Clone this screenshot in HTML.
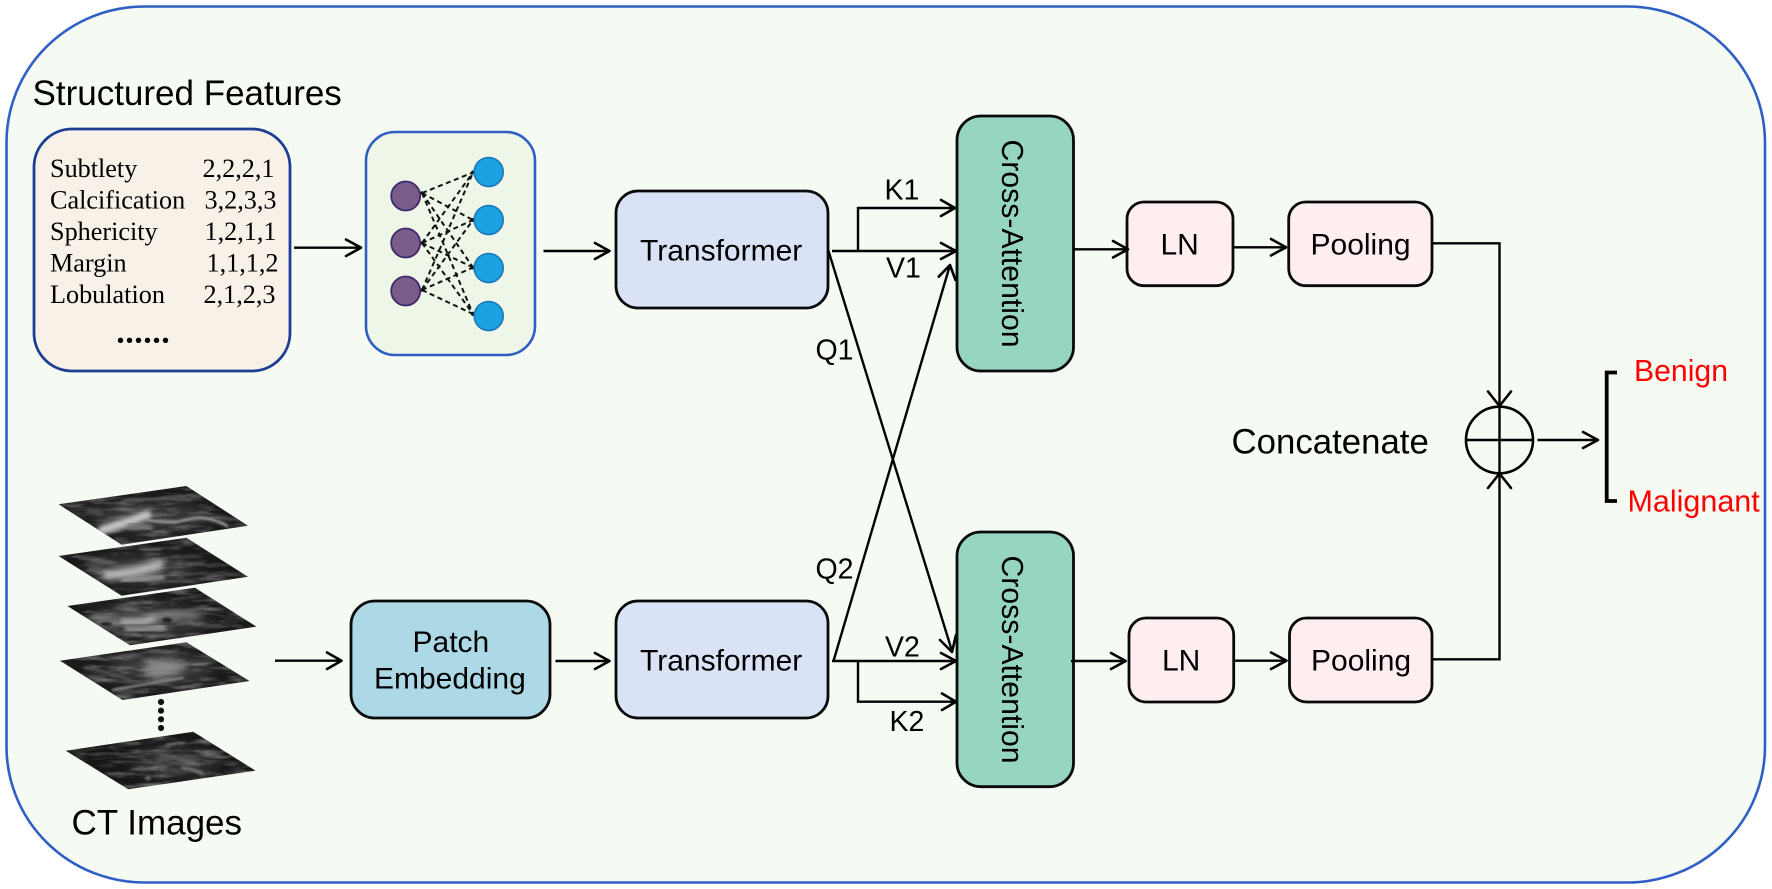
<!DOCTYPE html>
<html>
<head>
<meta charset="utf-8">
<style>
html,body{margin:0;padding:0;background:#fff;width:1772px;height:889px;overflow:hidden}
svg{display:block}
text{font-family:"Liberation Sans",Arial,sans-serif;fill:#000}
.serif{font-family:"Liberation Serif","Times New Roman",serif;font-size:26.2px}
.box{stroke:#0a0a0a;stroke-width:2.8}
.l{fill:none;stroke:#000;stroke-width:2.4}
.h{fill:none;stroke:#000;stroke-width:2.6;stroke-linecap:round;stroke-linejoin:round}
.d{fill:none;stroke:#111;stroke-width:2;stroke-dasharray:5 3.6}
.s{fill:none;stroke-linecap:round}
</style>
</head>
<body>
<svg width="1772" height="889" viewBox="0 0 1772 889" xmlns="http://www.w3.org/2000/svg">
<defs>
<filter id="noise" x="0" y="0" width="100%" height="100%">
<feTurbulence type="fractalNoise" baseFrequency="0.035 0.18" numOctaves="4" seed="4"/>
<feColorMatrix type="matrix" values="0 0 0 0 1  0 0 0 0 1  0 0 0 0 1  1.6 0 0 0 -0.68"/>
</filter>
<filter id="b6" x="-50%" y="-100%" width="200%" height="300%"><feGaussianBlur stdDeviation="7"/></filter>
<filter id="b3" x="-30%" y="-60%" width="160%" height="220%"><feGaussianBlur stdDeviation="2.4"/></filter>
<filter id="b4" x="-50%" y="-80%" width="200%" height="260%"><feGaussianBlur stdDeviation="4.5"/></filter>
<filter id="b1" x="-30%" y="-60%" width="160%" height="220%"><feGaussianBlur stdDeviation="1"/></filter>
<clipPath id="c1"><polygon points="58.6,504.3 186.4,486 248,525.7 121.7,544.7"/></clipPath>
<clipPath id="c2"><polygon points="58.6,556 186.4,537.7 248,576.7 121.7,595.7"/></clipPath>
<clipPath id="c3"><polygon points="67.4,606 195,587.7 256.4,626.7 130,645.3"/></clipPath>
<clipPath id="c4"><polygon points="60,660.7 186.4,642.3 249.5,681 122.5,700"/></clipPath>
<clipPath id="c5"><polygon points="65.8,750.7 193.3,731.7 255.6,770.7 128.2,789.3"/></clipPath>
</defs>

<!-- outer panel -->
<rect x="6.5" y="6.5" width="1758.5" height="876" rx="138" ry="136" fill="#f5fbf2" stroke="#2f5fc4" stroke-width="2.6"/>

<text x="32.5" y="105" font-size="35">Structured Features</text>

<!-- structured box -->
<rect x="34" y="129" width="256" height="242" rx="38" fill="#f7f1e7" stroke="#1c3f94" stroke-width="2.8"/>
<text class="serif" x="50" y="177">Subtlety</text><text class="serif" x="202.5" y="177">2,2,2,1</text>
<text class="serif" x="50" y="208.5">Calcification</text><text class="serif" x="204.5" y="208.5">3,2,3,3</text>
<text class="serif" x="50" y="240">Sphericity</text><text class="serif" x="204.5" y="240">1,2,1,1</text>
<text class="serif" x="50" y="271.5">Margin</text><text class="serif" x="206.5" y="271.5">1,1,1,2</text>
<text class="serif" x="50" y="303">Lobulation</text><text class="serif" x="203.5" y="303">2,1,2,3</text>
<g fill="#000"><circle cx="120.5" cy="340.3" r="2.7"/><circle cx="129.5" cy="340.3" r="2.7"/><circle cx="138.5" cy="340.3" r="2.7"/><circle cx="147.5" cy="340.3" r="2.7"/><circle cx="156.5" cy="340.3" r="2.7"/><circle cx="165.5" cy="340.3" r="2.7"/></g>

<!-- network box -->
<rect x="366" y="132" width="169" height="223" rx="29" fill="#eef6e8" stroke="#2f5fc4" stroke-width="2.6"/>
<g>
<line class="d" x1="422" y1="193" x2="473" y2="172.5"/><line class="d" x1="422" y1="193" x2="473" y2="220"/><line class="d" x1="422" y1="193" x2="473" y2="267.5"/><line class="d" x1="422" y1="193" x2="473" y2="314"/>
<line class="d" x1="422" y1="243" x2="473" y2="172.5"/><line class="d" x1="422" y1="243" x2="473" y2="220"/><line class="d" x1="422" y1="243" x2="473" y2="267.5"/><line class="d" x1="422" y1="243" x2="473" y2="314"/>
<line class="d" x1="422" y1="290" x2="473" y2="172.5"/><line class="d" x1="422" y1="290" x2="473" y2="220"/><line class="d" x1="422" y1="290" x2="473" y2="267.5"/><line class="d" x1="422" y1="290" x2="473" y2="314"/>
</g>
<g fill="#111"><circle cx="473" cy="172.5" r="2"/><circle cx="473" cy="220" r="2"/><circle cx="473" cy="267.5" r="2"/><circle cx="473" cy="314" r="2"/><circle cx="422" cy="193" r="1.8"/><circle cx="422" cy="243" r="1.8"/><circle cx="422" cy="290" r="1.8"/></g>
<g fill="#7a5c8a" stroke="#3f2a6b" stroke-width="1.8"><circle cx="405.7" cy="196" r="14.5"/><circle cx="405.7" cy="243" r="14.5"/><circle cx="405.7" cy="291" r="14.5"/></g>
<g fill="#1ba0e2" stroke="#1c77b8" stroke-width="1.6"><circle cx="488.7" cy="172" r="14.5"/><circle cx="488.7" cy="220" r="14.5"/><circle cx="488.7" cy="268" r="14.5"/><circle cx="488.7" cy="316" r="14.5"/></g>

<!-- arrows structured -->
<line class="l" x1="294" y1="247.7" x2="360" y2="247.7"/><polyline class="h" points="346,239.5 361,247.7 346,256"/>
<line class="l" x1="543.5" y1="251" x2="608" y2="251"/><polyline class="h" points="595,243 609.5,251 595,259"/>

<!-- transformers -->
<rect class="box" x="616" y="191" width="212" height="117" rx="22" fill="#dae3f5"/>
<text x="640" y="260.5" font-size="30">Transformer</text>
<rect class="box" x="616" y="601" width="212" height="117" rx="22" fill="#dae3f5"/>
<text x="640" y="670.5" font-size="30">Transformer</text>

<!-- patch embedding -->
<rect class="box" x="351" y="601" width="199" height="117" rx="24" fill="#add8e6"/>
<text x="412.5" y="652" font-size="30">Patch</text>
<text x="374" y="688.5" font-size="30">Embedding</text>
<line class="l" x1="275" y1="660.7" x2="340" y2="660.7"/><polyline class="h" points="327,652.5 341.5,660.7 327,669"/>
<line class="l" x1="555.5" y1="661" x2="608" y2="661"/><polyline class="h" points="595,653 609.5,661 595,669"/>

<!-- crossing lines -->
<line class="l" x1="828.5" y1="251" x2="952" y2="651"/><polyline class="h" points="940,640 952,652 956,635"/>
<polyline class="l" points="950,265 833.5,661"/><polyline class="h" points="938.7,276.7 950,265 955.5,280"/>

<!-- K1 V1 -->
<line class="l" x1="832" y1="251" x2="955" y2="251"/><polyline class="h" points="941,243 956,251 941,259"/>
<polyline class="l" points="858,251 858,208 954,208"/><polyline class="h" points="941,200 955,208 941,216"/>
<!-- V2 K2 -->
<line class="l" x1="832" y1="661" x2="955" y2="661"/><polyline class="h" points="941,653 956,661 941,669"/>
<polyline class="l" points="858,661 858,701.7 955,701.7"/><polyline class="h" points="942,693.5 956,701.7 942,710"/>

<text x="884.5" y="199.5" font-size="28.5">K1</text>
<text x="886" y="277.5" font-size="28.5">V1</text>
<text x="815.5" y="359.5" font-size="28.5">Q1</text>
<text x="815.5" y="578.5" font-size="28.5">Q2</text>
<text x="885" y="656.5" font-size="28.5">V2</text>
<text x="889.5" y="731" font-size="28.5">K2</text>

<!-- cross attention -->
<rect class="box" x="957" y="116" width="116.5" height="255" rx="24" fill="#95d5c1"/>
<text transform="translate(1002,139.5) rotate(90)" font-size="30.2">Cross-Attention</text>
<rect class="box" x="957" y="532" width="116.5" height="254.7" rx="24" fill="#95d5c1"/>
<text transform="translate(1002,555.5) rotate(90)" font-size="30.2">Cross-Attention</text>

<!-- LN / pooling -->
<rect class="box" x="1127" y="202" width="106" height="83.7" rx="17" fill="#ffeef0"/>
<text x="1160.5" y="254.5" font-size="30">LN</text>
<rect class="box" x="1288.7" y="202" width="143.3" height="83.7" rx="17" fill="#ffeef0"/>
<text x="1310.5" y="254.5" font-size="30">Pooling</text>
<rect class="box" x="1129" y="618" width="104.7" height="84" rx="17" fill="#ffeef0"/>
<text x="1162" y="670.5" font-size="30">LN</text>
<rect class="box" x="1289.5" y="618" width="142.5" height="84" rx="17" fill="#ffeef0"/>
<text x="1311" y="670.5" font-size="30">Pooling</text>

<line class="l" x1="1073.5" y1="249.3" x2="1126.5" y2="249.3"/><polyline class="h" points="1113,241 1128,249.3 1113,257.5"/>
<line class="l" x1="1233" y1="247.3" x2="1285" y2="247.3"/><polyline class="h" points="1271,239 1286,247.3 1271,255.5"/>
<line class="l" x1="1071" y1="661" x2="1124.5" y2="661"/><polyline class="h" points="1111,653 1125.7,661 1111,669"/>
<line class="l" x1="1233.7" y1="660.7" x2="1285" y2="660.7"/><polyline class="h" points="1271,652.5 1286.5,660.7 1271,669"/>

<!-- concat -->
<polyline class="l" points="1432,243.3 1499.5,243.3 1499.5,473"/>
<polyline class="l" points="1432,659.3 1499.5,659.3 1499.5,473"/>
<ellipse cx="1499.5" cy="440" rx="33.5" ry="33.3" fill="none" stroke="#000" stroke-width="2.6"/>
<line class="l" x1="1466" y1="440" x2="1533" y2="440"/>
<polyline class="h" points="1488,391.5 1499.5,406 1511,391.5"/>
<polyline class="h" points="1488,488 1499.5,473.5 1511,488"/>
<text x="1231.5" y="453.5" font-size="34.8">Concatenate</text>
<line class="l" x1="1537.5" y1="440" x2="1597" y2="440"/><polyline class="h" points="1583,432 1598,440 1583,448"/>
<polyline fill="none" stroke="#000" stroke-width="3.8" points="1617,372.5 1606.7,372.5 1606.7,501 1617,501"/>
<text x="1634" y="381" font-size="30.2" style="fill:#f00">Benign</text>
<text x="1627.5" y="511.5" font-size="30.5" style="fill:#f00">Malignant</text>

<!-- CT slices -->
<g clip-path="url(#c1)">
<rect x="50" y="480" width="210" height="70" fill="#191919"/>
<ellipse cx="150" cy="517" rx="60" ry="14" fill="#3a3a3a" filter="url(#b6)"/>
<rect x="50" y="480" width="210" height="70" filter="url(#noise)" opacity=".45"/>
<path class="s" d="M102 530 Q122 524 147 515" stroke="#c4c4c4" stroke-width="9" filter="url(#b3)"/>
<path class="s" d="M130 525 Q145 527 150 528" stroke="#808080" stroke-width="6" filter="url(#b3)"/>
<path class="s" d="M147 520 Q165 523 177 522 Q195 517 203 518 Q218 520 227 526" stroke="#a0a0a0" stroke-width="2.4" filter="url(#b1)"/>
<path class="s" d="M123 501 Q160 497 190 500" stroke="#555" stroke-width="3" filter="url(#b1)"/>
<path class="s" d="M88 512 Q95 510 100 514" stroke="#555" stroke-width="5" filter="url(#b3)"/>
</g>
<g clip-path="url(#c2)">
<rect x="50" y="530" width="210" height="70" fill="#191919"/>
<ellipse cx="140" cy="570" rx="58" ry="14" fill="#383838" filter="url(#b6)"/>
<rect x="50" y="530" width="210" height="70" filter="url(#noise)" opacity=".45"/>
<path class="s" d="M107 575 Q133 573 160 565" stroke="#b5b5b5" stroke-width="8" filter="url(#b4)"/>
<path class="s" d="M107 575 Q133 573 160 565" stroke="#bdbdbd" stroke-width="5" filter="url(#b3)"/>
<path class="s" d="M123 580 Q145 579 163 577" stroke="#a0a0a0" stroke-width="5" filter="url(#b3)"/>
<path class="s" d="M175 568 L188 568" stroke="#808080" stroke-width="4" filter="url(#b3)"/>
<path class="s" d="M90 570 L100 568" stroke="#5a5a5a" stroke-width="5" filter="url(#b3)"/>
<path class="s" d="M140 549 L160 550" stroke="#5a5a5a" stroke-width="2.5" filter="url(#b1)"/>
</g>
<g clip-path="url(#c3)">
<rect x="60" y="580" width="210" height="70" fill="#1a1a1a"/>
<ellipse cx="150" cy="620" rx="58" ry="15" fill="#383838" filter="url(#b6)"/>
<rect x="60" y="580" width="210" height="70" filter="url(#noise)" opacity=".45"/>
<path class="s" d="M95 620 Q123 624 153 618 Q170 613 197 615" stroke="#9c9c9c" stroke-width="6" filter="url(#b4)"/>
<path class="s" d="M123 622 Q140 623 153 619" stroke="#b0b0b0" stroke-width="5" filter="url(#b3)"/>
<path class="s" d="M127 629 Q145 631 163 627" stroke="#999" stroke-width="6" filter="url(#b3)"/>
<ellipse cx="167" cy="620" rx="5" ry="2" fill="#181818" filter="url(#b1)"/>
<ellipse cx="106" cy="624" rx="6" ry="1.6" fill="#181818" filter="url(#b1)"/>
</g>
<g clip-path="url(#c4)">
<rect x="50" y="635" width="210" height="70" fill="#1b1b1b"/>
<ellipse cx="160" cy="668" rx="52" ry="14" fill="#3e3e3e" filter="url(#b6)"/>
<rect x="50" y="635" width="210" height="70" filter="url(#noise)" opacity=".48"/>
<ellipse cx="163" cy="668" rx="20" ry="8" fill="#8c8c8c" filter="url(#b4)"/>
<path class="s" d="M150 662 Q165 670 185 666" stroke="#8c8c8c" stroke-width="3.5" filter="url(#b3)"/>
<path class="s" d="M113 690 Q140 685 183 678" stroke="#8a8a8a" stroke-width="2.4" filter="url(#b1)"/>
<path class="s" d="M85 668 Q110 672 130 680" stroke="#4f4f4f" stroke-width="3" filter="url(#b1)"/>
</g>
<g clip-path="url(#c5)">
<rect x="60" y="725" width="210" height="70" fill="#171717"/>
<ellipse cx="175" cy="762" rx="46" ry="14" fill="#333" filter="url(#b6)"/>
<rect x="60" y="725" width="210" height="70" filter="url(#noise)" opacity=".5"/>
<path class="s" d="M163 758 Q180 755 195 757" stroke="#5c5c5c" stroke-width="7" filter="url(#b4)"/>
<path class="s" d="M183 768 Q195 770 202 773" stroke="#707070" stroke-width="3.5" filter="url(#b1)"/>
<path class="s" d="M167 745 Q175 743 184 743" stroke="#707070" stroke-width="2.4" filter="url(#b1)"/>
<circle cx="148" cy="778" r="2.6" fill="#666" filter="url(#b1)"/>
</g>
<g fill="#111"><circle cx="161" cy="702" r="3.1"/><circle cx="161" cy="710.7" r="3.1"/><circle cx="161" cy="719.3" r="3.1"/><circle cx="161" cy="728" r="3.1"/></g>
<text x="71.5" y="834.5" font-size="35">CT Images</text>
</svg>
</body>
</html>
